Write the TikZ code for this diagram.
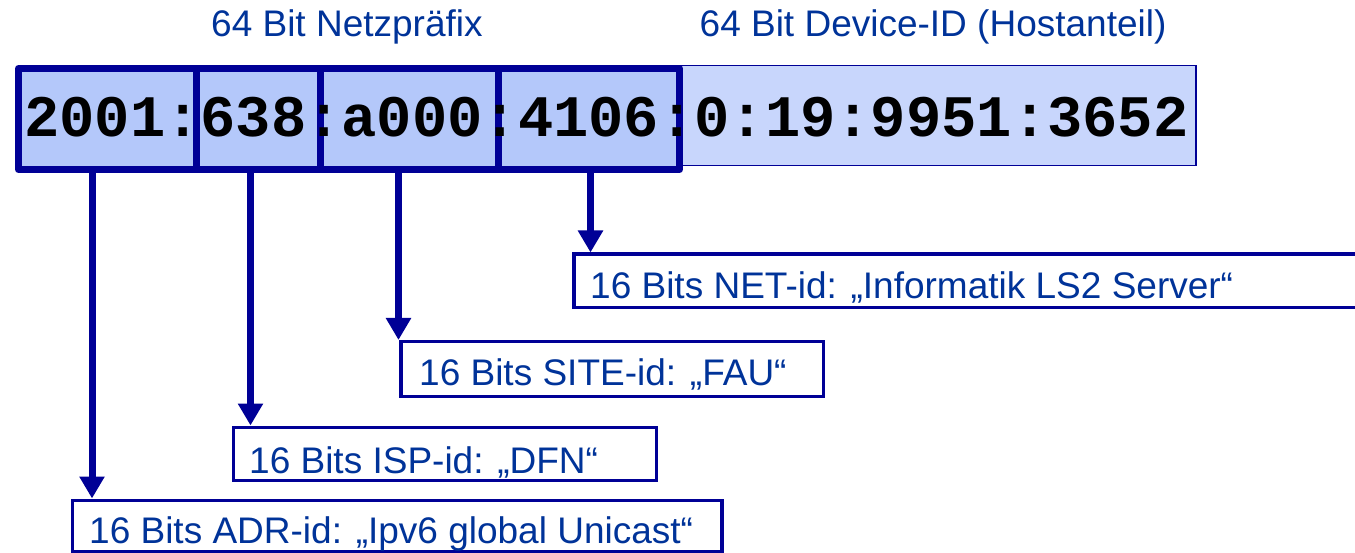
\documentclass[tikz,border=0pt]{standalone}
\usepackage{fontspec}
\setmainfont{Liberation Sans}
\newfontfamily\addrfont{Liberation Mono}
\usetikzlibrary{arrows.meta}
\definecolor{navy}{RGB}{0,0,150}
\definecolor{txtblue}{RGB}{0,51,153}
\definecolor{pfxfill}{RGB}{180,200,250}
\definecolor{hostfill}{RGB}{200,214,252}
\begin{document}
\begin{tikzpicture}[x=1pt,y=-1pt,
  segbox/.style={draw=navy, line width=7pt, fill=pfxfill, rectangle, inner sep=0pt, anchor=north west, line join=round, minimum height=101pt},
  hostbox/.style={draw=navy, line width=1.5pt, fill=hostfill, rectangle, inner sep=0pt, anchor=north west},
  lblbox/.style={draw=navy, line width=3.5pt, fill=white, rectangle, inner sep=0pt, anchor=north west},
  lbl/.style={text=txtblue, inner sep=0pt, anchor=base west, font=\fontsize{37pt}{40pt}\selectfont},
  arr/.style={draw=navy, line width=7pt, -{Triangle[length=22pt,width=24pt]}},
  addrtxt/.style={inner sep=0pt, anchor=base west, text=black, font=\addrfont\bfseries\fontsize{58.8pt}{60pt}\selectfont}
]
\useasboundingbox (0,0) rectangle (1355,553);

% titles
\node[lbl] (tpfx) at (211,36.7) {64 Bit Netzpräfix};
\node[lbl] (tdev) at (699.5,36.7) {64 Bit Device-ID (Hostanteil)};

% address boxes
\node[hostbox, minimum width=519pt, minimum height=100pt] (host) at (676,65) {};
\node[segbox, minimum width=178pt] (seg1) at (15,65) {};
\node[segbox, minimum width=123.5pt] (seg2) at (193,65) {};
\node[segbox, minimum width=178pt] (seg3) at (316.5,65) {};
\node[segbox, minimum width=181.5pt] (seg4) at (494.5,65) {};
\node[addrtxt] (addr) at (24,137) {2001:638:a000:4106:0:19:9951:3652};

% label boxes
\node[lblbox, minimum width=800pt, minimum height=53.5pt] (net) at (572,252.5) {};
\node[lblbox, minimum width=422.5pt, minimum height=54.5pt] (site) at (399,340) {};
\node[lblbox, minimum width=423pt, minimum height=53pt] (isp) at (231.5,425.5) {};
\node[lblbox, minimum width=649.5pt, minimum height=51.5pt] (adr) at (70.5,498.5) {};

\node[lbl] (tnet) at (590,299) {16 Bits NET-id: „Informatik LS2 Server“};
\node[lbl] (tsite) at (419,385) {16 Bits SITE-id: „FAU“};
\node[lbl] (tisp) at (249,473) {16 Bits ISP-id: „DFN“};
\node[lbl] (tadr) at (89,543) {16 Bits ADR-id: „Ipv6 global Unicast“};

% arrows
\coordinate (c1) at (92,0);
\coordinate (c2) at (250.5,0);
\coordinate (c3) at (398.5,0);
\coordinate (c4) at (590.5,0);
\draw[arr] (seg1.south -| c1) -- (adr.north -| c1);
\draw[arr] (seg2.south -| c2) -- (isp.north -| c2);
\draw[arr] (seg3.south -| c3) -- (site.north -| c3);
\draw[arr] (seg4.south -| c4) -- (net.north -| c4);
\end{tikzpicture}
\end{document}
